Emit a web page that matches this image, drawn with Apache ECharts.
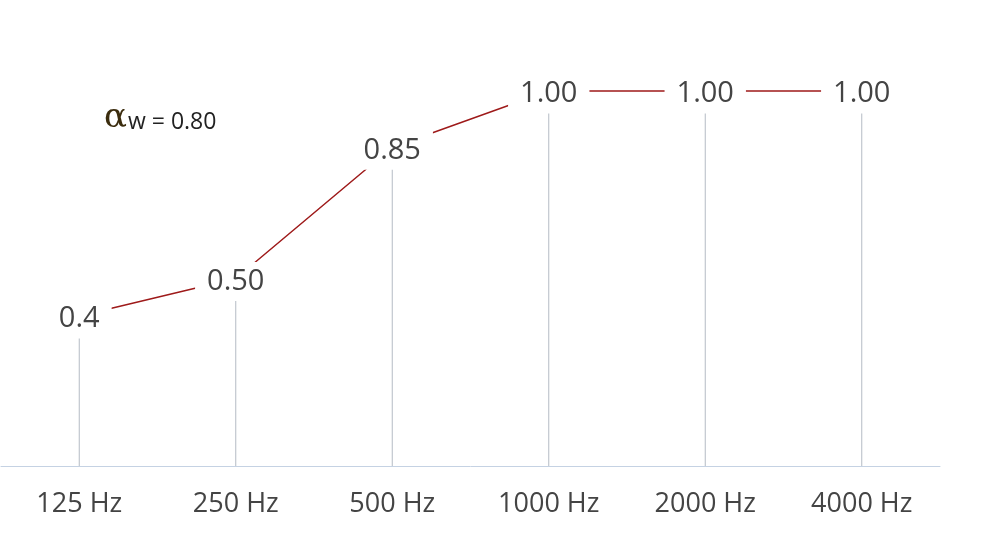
<!DOCTYPE html>
<html>
<head>
<meta charset="utf-8">
<script src="https://cdn.jsdelivr.net/npm/echarts@6/dist/echarts.min.js"></script>
<style>html,body{margin:0;padding:0;background:#fff}#c{width:1000px;height:543px}</style>
</head>
<body>
<div id="c"></div>
<script>
const categories = ['125 Hz', '250 Hz', '500 Hz', '1000 Hz', '2000 Hz', '4000 Hz'];
const values = [0.4, 0.50, 0.85, 1.00, 1.00, 1.00];
const valueLabels = ['0.4', '0.50', '0.85', '1.00', '1.00', '1.00'];
const weightedLabel = '0.80';

const chart = echarts.init(document.getElementById('c'));
chart.setOption({
  animation: false,
  backgroundColor: '#fff',
  grid: { left: 1, right: 60, top: 16, bottom: 77, containLabel: false },
  graphic: [{
    type: 'text', left: 104, top: 101,
    style: {
      rich: {
        a: { fontFamily: 'DejaVu Serif', fontSize: 34, fill: '#3b2c0e' },
        b: { fontFamily: 'Open Sans', fontSize: 23, fill: '#222', padding: [9, 0, 0, 1] }
      },
      text: '{a|α}{b|w = ' + weightedLabel + '}'
    }
  }],
  xAxis: {
    type: 'category', data: categories, boundaryGap: true,
    axisLine: { lineStyle: { color: '#c5d2e3', width: 1 } },
    axisTick: { show: false },
    axisLabel: { color: '#444', fontSize: 27, fontFamily: 'Open Sans', margin: 25 }
  },
  yAxis: { type: 'value', min: 0, max: 1.2, show: false, splitLine: { show: false } },
  series: [
    {
      type: 'bar', data: values, barWidth: 1, z: 1,
      itemStyle: { color: '#b4bbc4' }, silent: true
    },
    {
      type: 'line', data: values, z: 2, symbol: 'none',
      lineStyle: { color: '#9e1a1a', width: 1.5 }
    },
    {
      type: 'scatter', data: values, z: 3, symbolSize: 1,
      itemStyle: { color: 'transparent', opacity: 1 },
      label: {
        show: true, position: 'inside', offset: [0, 3],
        formatter: p => valueLabels[p.dataIndex],
        fontFamily: 'Open Sans', fontSize: 29, color: '#444',
        backgroundColor: '#fff', padding: [5, 12], opacity: 1
      }
    }
  ]
});
</script>
</body>
</html>
